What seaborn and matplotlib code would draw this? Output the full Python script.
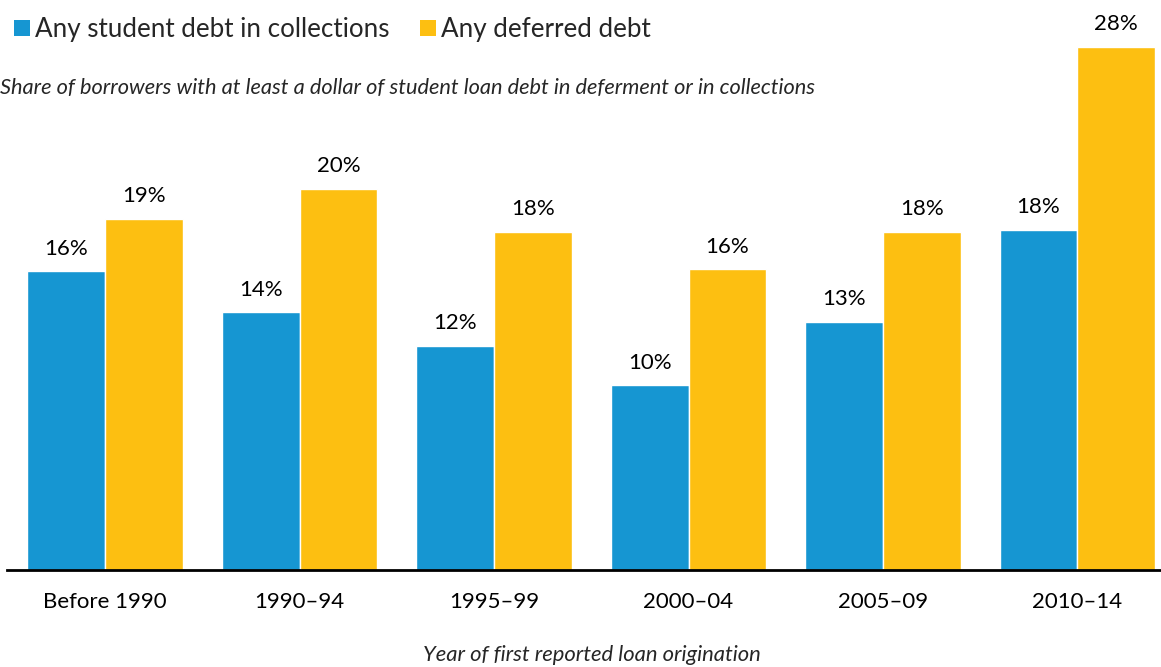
import matplotlib
matplotlib.use("Agg")
import matplotlib.pyplot as plt
from matplotlib.patches import Patch
import pandas as pd
import seaborn as sns

categories = ["Before 1990", "1990\u201394", "1995\u201399", "2000\u201304", "2005\u201309", "2010\u201314"]
collections = [16.0, 13.8, 12.0, 9.9, 13.3, 18.2]
deferred = [18.8, 20.4, 18.1, 16.1, 18.1, 28.0]
series_names = ["Any student debt in collections", "Any deferred debt"]
colors = ["#1696d2", "#fdbf11"]

df = pd.DataFrame({
    "period": categories * 2,
    "share": collections + deferred,
    "series": [series_names[0]] * len(categories) + [series_names[1]] * len(categories),
})

sns.set_style("white")
plt.rcParams["font.family"] = ["Lato", "DejaVu Sans"]

fig = plt.figure(figsize=(11.61, 6.67), dpi=100)
ax = fig.add_axes([7 / 1161, (667 - 570) / 667, 1154 / 1161, 530 / 667])

sns.barplot(data=df, x="period", y="share", hue="series", palette=colors,
            width=0.8, saturation=1, ax=ax, legend=False, errorbar=None)

for container in ax.containers:
    ax.bar_label(container, labels=[f"{v:.0f}%" for v in container.datavalues],
                 padding=9, fontsize=16, color="#000000")

ax.set_xlim(-0.505, 5.43)
ax.set_ylim(0, 28.37)
ax.set_yticks([])
ax.set_ylabel("")
ax.set_xlabel("")
ax.tick_params(axis="x", length=0, pad=16, labelsize=16, colors="#000000")
for side in ["top", "right", "left"]:
    ax.spines[side].set_visible(False)
ax.spines["bottom"].set_color("#000000")
ax.spines["bottom"].set_linewidth(2)

fig.text(592 / 1161, 2 / 667, "Year of first reported loan origination",
         fontsize=15.8, style="italic", ha="center", va="bottom")

handles = [Patch(facecolor=c, edgecolor="none") for c in colors]
fig.legend(handles, series_names, loc="upper left", bbox_to_anchor=(0.003, 0.99),
           ncol=2, frameon=False, fontsize=18.7, handlelength=0.62, handleheight=0.62,
           handletextpad=0.2, columnspacing=1.15, borderaxespad=0)

fig.text(0.0, (667 - 88) / 667,
         "Share of borrowers with at least a dollar of student loan debt in deferment or in collections",
         fontsize=15.7, style="italic", ha="left", va="center")

fig.savefig("out.png", dpi=100)
